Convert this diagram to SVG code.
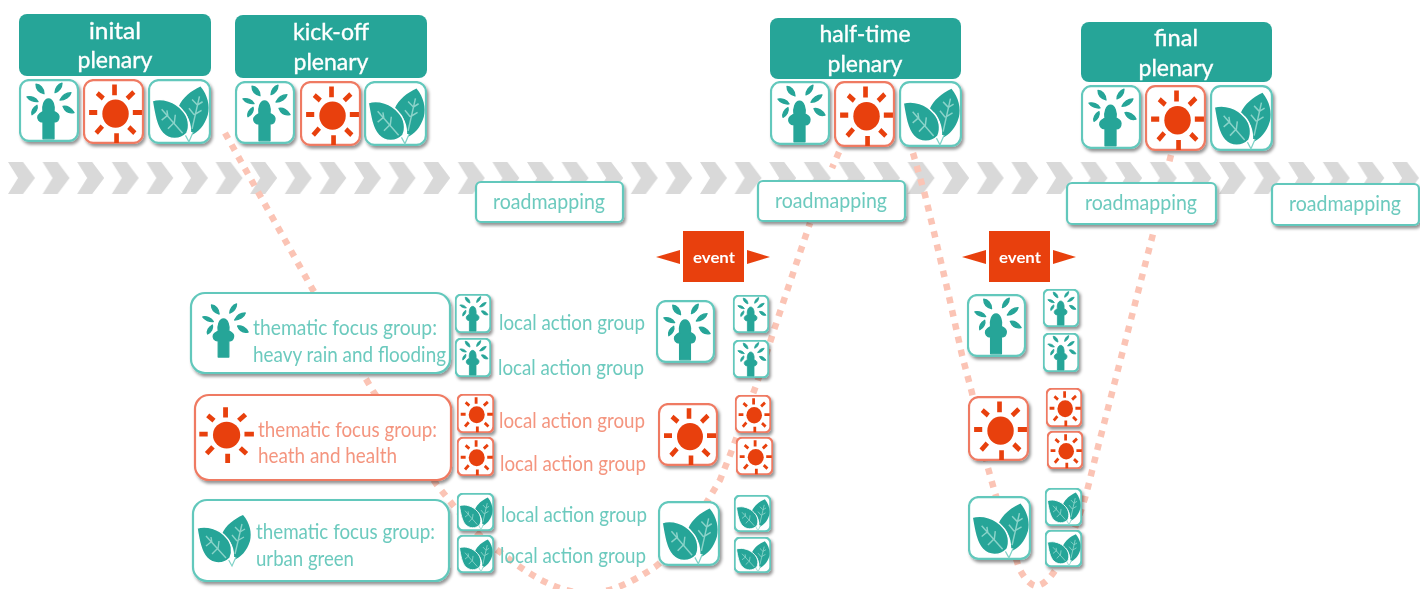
<svg xmlns="http://www.w3.org/2000/svg" width="1427" height="589" viewBox="0 0 1427 589">
<style>
text{font-family:"Lato","Noto Sans",sans-serif}
.hd{fill:#fff;stroke:#fff;stroke-width:.35;font-size:23px;text-anchor:middle}
.t{fill:#6ccabe;font-size:21px}
.r{fill:#f4957f;font-size:21px}
.rm{fill:#6ccabe;font-size:20.500px;text-anchor:middle}
.ev{fill:#fff;font-size:16px;font-weight:700;text-anchor:middle}
.hb{fill:#27a598}
.bt{fill:#fff;stroke:#62c8bc;stroke-width:2.2}
.br{fill:#fff;stroke:#ef7a62;stroke-width:2.2}
.ti{fill:#27a598;stroke:#27a598;stroke-width:1.3;stroke-linejoin:round}
.lf{fill:#27a598}
.su{fill:#e8410f}
.ray{fill:none;stroke:#e8410f;stroke-width:4.6}
.vein{fill:none;stroke:#8ad3c9;stroke-width:1.4}
.tile{vector-effect:non-scaling-stroke}
.dots{fill:none;stroke:#fbc4b5;stroke-width:6.5;stroke-dasharray:6.5 7}
.shd{filter:url(#sh)}
</style>
<defs>
<filter id="sh" x="-10%" y="-10%" width="125%" height="125%"><feDropShadow dx="1.8" dy="2.6" stdDeviation="1.5" flood-color="#000" flood-opacity=".42"/></filter>
<filter id="soft" x="0" y="0" width="100%" height="100%"><feGaussianBlur stdDeviation=".5"/></filter>
<pattern id="chev" x="8" y="162" width="34.6" height="32" patternUnits="userSpaceOnUse"><polygon points="0,0 15,0 27,16 15,32 0,32 10,16" fill="#d9d9d9"/></pattern>
<symbol id="i-h" viewBox="0 0 60 60" preserveAspectRatio="none">
<g class="ti">
<path d="M24 57V41C20 41 18 38 19 35C20 33 22 32 24 31C23 26 25 19 29.500 19C34 19 36 26 35 31C37 32 40 33 40 36C40 39 38 41 35 41V57Z"/>
<path d="M17 5C21 5 25 9 25 14C21 13 17 10 17 5ZM43 4C43 8 40 12 36 13C36 9 39 5 43 4ZM8 17C12 16 17 18 19 21.500C15 22 10 20 8 17ZM52 13C51 17 46 20 41 20C43 16 47 13 52 13ZM18 25C19 28 17 32 13 34C12 31 14 27 18 25ZM44 26C48 25 53 28 55 32C50 33 46 31 44 26Z"/>
</g></symbol>
<symbol id="i-s" viewBox="0 0 60 60" preserveAspectRatio="none">
<circle class="su" cx="32" cy="32" r="13"/>
<path class="ray" d="M31 5V15M33 50V59M6 31H14M49 31H58M14 13L20 18M50 12L43.500 18M13 50L19 43.500M51 50L45 44.500"/></symbol>
<symbol id="i-l" viewBox="0 0 60 60" preserveAspectRatio="none">
<path class="lf" d="M50 7C57 15 59 25 57 33C54 43 48 49 41 52C42 40 38 32 29 26C33 17 41 11 50 7Z"/>
<path d="M34 49L39 58L43 49" fill="#fff" stroke="#7fd2c7" stroke-width="1.2"/>
<path class="lf" stroke="#fff" stroke-width="1.4" d="M4 20C14 17 26 21 33 29C39 35 40 44 37 50C30 57 20 56 14 50C8 44 6 32 4 20Z"/>
<path class="vein" d="M13 28L33 50M19 35L18 29M25 41L26 33M18 34L13 38M24 41L19 46M49 16L42 46M47 24L42 19M44 33L39 27M47 24L52 21M44 33L51 29"/></symbol>
<symbol id="t-h" viewBox="0 0 60 60" preserveAspectRatio="none"><rect class="bt tile" x="1" y="1" width="58" height="58" rx="9"/><use href="#i-h" width="60" height="60"/></symbol>
<symbol id="t-s" viewBox="0 0 60 60" preserveAspectRatio="none"><rect class="br tile" x="1" y="1" width="58" height="58" rx="9"/><use href="#i-s" width="60" height="60"/></symbol>
<symbol id="t-l" viewBox="0 0 60 60" preserveAspectRatio="none"><rect class="bt tile" x="1" y="1" width="58" height="58" rx="9"/><use href="#i-l" width="60" height="60"/></symbol>
</defs>
<rect width="1427" height="589" fill="#fff"/>
<g filter="url(#soft)">
<rect id="timeline" x="8" y="162" width="1412" height="32" fill="url(#chev)"/>
<g id="connectors">
<path class="dots" d="M225 133L313 290L366 379L373 391L437 485L453 505C470 525 482 540 500 552C525 572 555 592 585 593C612 594 635 580 655 567C680 548 695 520 708 500L720 480L730 455L757 383L773 333L785 297L810 223"/>
<path class="dots" d="M839 152L832 168"/>
<path class="dots" d="M913 153L925 195L933 228L948 292L962 355L972 393L988 468L995 493L1019 568C1024 578 1030 585 1036 586C1044 585 1050 578 1056 569C1070 545 1078 520 1085 498L1088 487L1098 447L1153 234"/>
<path class="dots" d="M1171 155L1169 163"/>
</g>
<g id="plenary-initial"><rect class="hb" x="19" y="14" width="192" height="62" rx="8"/><text class="hd" x="115" y="39" textLength="52" lengthAdjust="spacingAndGlyphs">inital</text><text class="hd" x="115" y="68">plenary</text></g>
<g id="plenary-initial-h"><use class="shd" href="#t-h" x="19" y="79" width="60" height="63"/></g>
<g id="plenary-initial-s"><use class="shd" href="#t-s" x="83" y="79" width="61" height="65"/></g>
<g id="plenary-initial-l"><use class="shd" href="#t-l" x="148" y="79" width="63" height="65"/></g>
<g id="plenary-kickoff"><rect class="hb" x="235" y="15" width="192" height="63" rx="8"/><text class="hd" x="331" y="40">kick-off</text><text class="hd" x="331" y="70">plenary</text></g>
<g id="plenary-kickoff-h"><use class="shd" href="#t-h" x="235" y="81" width="60" height="63"/></g>
<g id="plenary-kickoff-s"><use class="shd" href="#t-s" x="300" y="81" width="61" height="65"/></g>
<g id="plenary-kickoff-l"><use class="shd" href="#t-l" x="364" y="81" width="63" height="65"/></g>
<g id="plenary-halftime"><rect class="hb" x="770" y="18" width="191" height="61" rx="8"/><text class="hd" x="865" y="42">half-time</text><text class="hd" x="865" y="72">plenary</text></g>
<g id="plenary-halftime-h"><use class="shd" href="#t-h" x="770" y="81" width="60" height="64"/></g>
<g id="plenary-halftime-s"><use class="shd" href="#t-s" x="834" y="81" width="61" height="66"/></g>
<g id="plenary-halftime-l"><use class="shd" href="#t-l" x="899" y="81" width="63" height="66"/></g>
<g id="plenary-final"><rect class="hb" x="1081" y="22" width="191" height="60" rx="8"/><text class="hd" x="1176" y="46" textLength="44" lengthAdjust="spacingAndGlyphs">final</text><text class="hd" x="1176" y="76">plenary</text></g>
<g id="plenary-final-h"><use class="shd" href="#t-h" x="1081" y="85" width="60" height="64"/></g>
<g id="plenary-final-s"><use class="shd" href="#t-s" x="1145" y="85" width="61" height="66"/></g>
<g id="plenary-final-l"><use class="shd" href="#t-l" x="1210" y="85" width="63" height="66"/></g>
<g id="roadmap-1"><rect class="bt shd" x="476" y="182" width="147" height="40" rx="5"/><text class="rm" x="549" y="209" textLength="112" lengthAdjust="spacingAndGlyphs">roadmapping</text></g>
<g id="roadmap-2"><rect class="bt shd" x="758" y="181" width="147" height="40" rx="5"/><text class="rm" x="831" y="208" textLength="112" lengthAdjust="spacingAndGlyphs">roadmapping</text></g>
<g id="roadmap-3"><rect class="bt shd" x="1067" y="183" width="149" height="41" rx="5"/><text class="rm" x="1141" y="210" textLength="112" lengthAdjust="spacingAndGlyphs">roadmapping</text></g>
<g id="roadmap-4"><rect class="bt shd" x="1272" y="184" width="147" height="41" rx="5"/><text class="rm" x="1345" y="211" textLength="112" lengthAdjust="spacingAndGlyphs">roadmapping</text></g>
<g id="event-1"><rect class="su" x="683" y="231" width="61" height="51"/><polygon class="su" points="656,257 680,250 680,264"/><polygon class="su" points="770,257 747,250 747,264"/><text class="ev" x="714" y="263" textLength="42" lengthAdjust="spacingAndGlyphs">event</text></g>
<g id="event-2"><rect class="su" x="989" y="231" width="61" height="51"/><polygon class="su" points="962,257 986,250 986,264"/><polygon class="su" points="1076,257 1053,250 1053,264"/><text class="ev" x="1020" y="263" textLength="42" lengthAdjust="spacingAndGlyphs">event</text></g>
<g id="focus-rain"><rect class="bt shd" x="191" y="293" width="259" height="80" rx="14"/><use href="#i-h" x="195" y="300" width="58" height="60"/><text class="t" x="253" y="335" textLength="184" lengthAdjust="spacingAndGlyphs">thematic focus group:</text><text class="t" x="253" y="362" textLength="193" lengthAdjust="spacingAndGlyphs">heavy rain and flooding</text></g>
<g id="focus-heat"><rect class="br shd" x="195" y="395" width="256" height="85" rx="14"/><use href="#i-s" x="193" y="402" width="63" height="62"/><text class="r" x="258" y="437" textLength="179" lengthAdjust="spacingAndGlyphs">thematic focus group:</text><text class="r" x="258" y="463" textLength="139" lengthAdjust="spacingAndGlyphs">heath and health</text></g>
<g id="focus-green"><rect class="bt shd" x="193" y="500" width="256" height="81" rx="14"/><use href="#i-l" x="193" y="508" width="60" height="60"/><text class="t" x="256" y="539" textLength="179" lengthAdjust="spacingAndGlyphs">thematic focus group:</text><text class="t" x="256" y="566" textLength="98" lengthAdjust="spacingAndGlyphs">urban green</text></g>
<g id="local-h1"><use class="shd" href="#t-h" x="455" y="294" width="36" height="39"/><text class="t" x="499" y="330" textLength="146" lengthAdjust="spacingAndGlyphs">local action group</text></g>
<g id="local-h2"><use class="shd" href="#t-h" x="455" y="338" width="36" height="39"/><text class="t" x="498" y="375" textLength="146" lengthAdjust="spacingAndGlyphs">local action group</text></g>
<g id="local-s1"><use class="shd" href="#t-s" x="457" y="394" width="37" height="39"/><text class="r" x="499" y="428" textLength="146" lengthAdjust="spacingAndGlyphs">local action group</text></g>
<g id="local-s2"><use class="shd" href="#t-s" x="457" y="437" width="37" height="39"/><text class="r" x="500" y="471" textLength="146" lengthAdjust="spacingAndGlyphs">local action group</text></g>
<g id="local-l1"><use class="shd" href="#t-l" x="457" y="493" width="37" height="38"/><text class="t" x="501" y="522" textLength="146" lengthAdjust="spacingAndGlyphs">local action group</text></g>
<g id="local-l2"><use class="shd" href="#t-l" x="457" y="535" width="37" height="38"/><text class="t" x="500" y="563" textLength="146" lengthAdjust="spacingAndGlyphs">local action group</text></g>
<g id="mid-h"><use class="shd" href="#t-h" x="656" y="300" width="59" height="63"/></g>
<g id="mid-s"><use class="shd" href="#t-s" x="658" y="403" width="60" height="63"/></g>
<g id="mid-l"><use class="shd" href="#t-l" x="658" y="501" width="62" height="65"/></g>
<g id="mid-h1"><use class="shd" href="#t-h" x="733" y="295" width="36" height="38"/></g>
<g id="mid-h2"><use class="shd" href="#t-h" x="733" y="340" width="36" height="38"/></g>
<g id="mid-s1"><use class="shd" href="#t-s" x="735" y="395" width="36" height="38"/></g>
<g id="mid-s2"><use class="shd" href="#t-s" x="736" y="437" width="37" height="38"/></g>
<g id="mid-l1"><use class="shd" href="#t-l" x="734" y="495" width="37" height="37"/></g>
<g id="mid-l2"><use class="shd" href="#t-l" x="734" y="537" width="37" height="36"/></g>
<g id="right-h"><use class="shd" href="#t-h" x="967" y="294" width="59" height="63"/></g>
<g id="right-s"><use class="shd" href="#t-s" x="968" y="396" width="61" height="65"/></g>
<g id="right-l"><use class="shd" href="#t-l" x="968" y="496" width="63" height="64"/></g>
<g id="right-h1"><use class="shd" href="#t-h" x="1043" y="289" width="36" height="38"/></g>
<g id="right-h2"><use class="shd" href="#t-h" x="1043" y="333" width="36" height="39"/></g>
<g id="right-s1"><use class="shd" href="#t-s" x="1046" y="388" width="36" height="39"/></g>
<g id="right-s2"><use class="shd" href="#t-s" x="1047" y="431" width="36" height="38"/></g>
<g id="right-l1"><use class="shd" href="#t-l" x="1045" y="488" width="37" height="38"/></g>
<g id="right-l2"><use class="shd" href="#t-l" x="1045" y="530" width="37" height="37"/></g>
</g>
</svg>
